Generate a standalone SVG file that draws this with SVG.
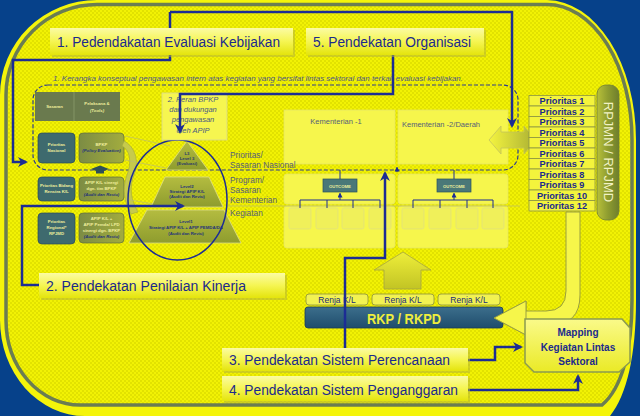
<svg xmlns="http://www.w3.org/2000/svg" width="640" height="416" viewBox="0 0 640 416">
<defs>
  <pattern id="chk" width="4" height="4" patternUnits="userSpaceOnUse">
    <rect width="4" height="4" fill="#f2f204"/>
    <rect width="2" height="2" fill="#e2e200"/>
    <rect x="2" y="2" width="2" height="2" fill="#e2e200"/>
  </pattern>
  <linearGradient id="gTitle" x1="0" y1="0" x2="0" y2="1">
    <stop offset="0" stop-color="#fbfba4"/>
    <stop offset="0.5" stop-color="#f5f552"/>
    <stop offset="1" stop-color="#e4e40c"/>
  </linearGradient>
  <linearGradient id="gPyr" x1="0" y1="0" x2="0" y2="1">
    <stop offset="0" stop-color="#b4bc40"/>
    <stop offset="1" stop-color="#8e9c2e"/>
  </linearGradient>
  <linearGradient id="gOliveBox" x1="0" y1="0" x2="1" y2="0">
    <stop offset="0" stop-color="#7c8c44"/>
    <stop offset="1" stop-color="#a2ac3e"/>
  </linearGradient>
  <linearGradient id="gPill" x1="0" y1="0" x2="1" y2="0">
    <stop offset="0" stop-color="#b8c03a"/>
    <stop offset="0.5" stop-color="#8e9c30"/>
    <stop offset="1" stop-color="#6e7e2c"/>
  </linearGradient>
  <linearGradient id="gDbl" x1="0" y1="0" x2="1" y2="0">
    <stop offset="0" stop-color="#f4f440"/>
    <stop offset="1" stop-color="#aab032"/>
  </linearGradient>
  <linearGradient id="gUp" x1="0" y1="0" x2="0" y2="1">
    <stop offset="0" stop-color="#eeee3a"/>
    <stop offset="1" stop-color="#c2c424"/>
  </linearGradient>
  <linearGradient id="gRkp" x1="0" y1="0" x2="0" y2="1">
    <stop offset="0" stop-color="#3c6e8c"/>
    <stop offset="1" stop-color="#1f4d6c"/>
  </linearGradient>
  <linearGradient id="gMap" x1="0" y1="0" x2="0" y2="1">
    <stop offset="0" stop-color="#fafa8a"/>
    <stop offset="1" stop-color="#eaea26"/>
  </linearGradient>
  <marker id="ah" viewBox="0 0 10 10" refX="8" refY="5" markerWidth="4" markerHeight="4" orient="auto" markerUnits="strokeWidth">
    <path d="M0,0 L10,5 L0,10 L3,5 Z" fill="#1c2c94"/>
  </marker>
  <marker id="ahs" viewBox="0 0 10 10" refX="8" refY="5" markerWidth="5" markerHeight="5" orient="auto" markerUnits="strokeWidth">
    <path d="M0,0 L10,5 L0,10 Z" fill="#1c2c94"/>
  </marker>
</defs>
<style>
  .sans { font-family: 'Liberation Sans', Arial, sans-serif; }
  .title { font-family: 'Liberation Sans', Arial, sans-serif; font-size: 15.5px; fill: #1b2a8c; }
  .tbox { fill: url(#gTitle); }
  .tshadow { fill: #b6b63a; opacity: 0.55; }
  .conn { fill: none; stroke: #1c2c94; stroke-width: 2.5; }
  .thin { fill: none; stroke: #1c2c94; stroke-width: 1; }
  .lbl { font-family: 'Liberation Sans', Arial, sans-serif; font-size: 8.3px; fill: #55607a; }
  .tiny { font-family: 'Liberation Sans', Arial, sans-serif; font-size: 4.3px; font-weight: bold; text-anchor: middle; }
  .lt { fill: #eeee9c; }
  .dk { fill: #24347a; font-style: italic; }
  .prio { fill: #f4f43c; stroke: #8c9444; stroke-width: 0.8; }
  .ptxt { font-family: 'Liberation Sans', Arial, sans-serif; font-size: 9.2px; font-weight: bold; fill: #1b2a8c; text-anchor: middle; }
  .renja { fill: #f2f252; stroke: #8a9040; stroke-width: 0.8; }
  .rtxt { font-family: 'Liberation Sans', Arial, sans-serif; font-size: 8.5px; fill: #1b2a7c; text-anchor: middle; }
  .panel { fill: #f6f64c; stroke: #e2e26a; stroke-width: 0.7; }
  .keg { fill: #f0f05a; stroke: #dcdc8a; stroke-width: 0.6; }
  .faint { stroke: #bcbc70; stroke-width: 0.7; fill: none; }
  .mtxt { font-family: 'Liberation Sans', Arial, sans-serif; font-size: 10px; font-weight: bold; fill: #1b2a8c; text-anchor: middle; }
</style>

<g id="background">
  <rect width="640" height="416" fill="#06418a"/>
  <path d="M97 0 H547 A90 140 0 0 1 636 140 V300 C636 355 627 395 610 416 H85 A85 96 0 0 1 0 320 V95 A97 95 0 0 1 97 0 Z" fill="#f4f40a"/>
  <path d="M97 4.5 H547 A85 135.5 0 0 1 632 140 V300 C632 350 622 388 602 405 H80 A74 85 0 0 1 6 320 V95 A91 90.5 0 0 1 97 4.5 Z" fill="url(#chk)" stroke="#6b7d52" stroke-width="3.5"/>
</g>

<g id="kerangka">
  <rect x="33" y="85" width="485" height="85" rx="15" fill="none" stroke="#2c3c90" stroke-width="1.2" stroke-dasharray="4 2"/>
  <text class="sans" x="53" y="81" font-size="7.5" font-style="italic" fill="#4e5a82" textLength="410" lengthAdjust="spacingAndGlyphs">1. Kerangka konseptual pengawasan intern atas kegiatan yang bersifat lintas sektoral dan terkait evaluasi kebijakan.</text>
</g>

<g id="kementerian-panels">
  <rect class="panel" x="284" y="110" width="111" height="54"/>
  <rect class="panel" x="398" y="110" width="110" height="54"/>
  <rect class="panel" x="284" y="174" width="111" height="30" rx="3"/>
  <rect class="panel" x="398" y="174" width="110" height="30" rx="3"/>
  <rect class="panel" x="284" y="206" width="111" height="42" rx="3"/>
  <rect class="panel" x="398" y="206" width="110" height="42" rx="3"/>
  <text class="sans" x="336" y="124" font-size="7.5" fill="#55607a" text-anchor="middle">Kementerian -1</text>
  <text class="sans" x="441" y="127" font-size="7.5" fill="#55607a" text-anchor="middle">Kementerian -2/Daerah</text>
  <line class="faint" x1="228" y1="206" x2="520" y2="206"/>
</g>

<g id="outcome-1">
  <rect x="323" y="179" width="34" height="13" fill="#4a7878" stroke="#2a5060" stroke-width="0.7"/>
  <text class="tiny lt" x="340" y="187.5">OUTCOME</text>
</g>
<g id="outcome-2">
  <rect x="437" y="179" width="34" height="13" fill="#4a7878" stroke="#2a5060" stroke-width="0.7"/>
  <text class="tiny lt" x="454" y="187.5">OUTCOME</text>
</g>

<g id="kegiatan-boxes">
  <rect class="keg" x="289" y="208" width="22" height="21" rx="2"/>
  <rect class="keg" x="316" y="208" width="22" height="21" rx="2"/>
  <rect class="keg" x="342" y="208" width="22" height="21" rx="2"/>
  <rect class="keg" x="369" y="208" width="22" height="21" rx="2"/>
  <rect class="keg" x="402" y="208" width="22" height="21" rx="2"/>
  <rect class="keg" x="429" y="208" width="22" height="21" rx="2"/>
  <rect class="keg" x="456" y="208" width="22" height="21" rx="2"/>
  <rect class="keg" x="482" y="208" width="22" height="21" rx="2"/>
</g>

<g id="row-labels">
  <text class="lbl" x="230" y="158">Prioritas/</text>
  <text class="lbl" x="230" y="168">Sasaran Nasional</text>
  <text class="lbl" x="230" y="183">Program/</text>
  <text class="lbl" x="230" y="193">Sasaran</text>
  <text class="lbl" x="230" y="203">Kementerian</text>
  <text class="lbl" x="230" y="216">Kegiatan</text>
</g>

<g id="left-table">
  <rect x="35" y="92" width="85" height="29" fill="#6a7a4e"/>
  <line x1="74" y1="92" x2="74" y2="121" stroke="#8c9c6c" stroke-width="0.8"/>
  <text class="tiny lt" x="54.5" y="108">Sasaran</text>
  <text class="tiny lt" x="97" y="105">Pelaksana &amp;</text>
  <text class="tiny lt" x="97" y="112" font-style="italic">(Tools)</text>

  <rect x="38" y="133" width="37" height="30" rx="4" fill="#3e6a6e" stroke="#2a4a5a" stroke-width="0.7"/>
  <text class="tiny lt" x="56.5" y="146">Prioritas</text>
  <text class="tiny lt" x="56.5" y="152">Nasional</text>
  <rect x="79" y="133" width="45" height="30" rx="4" fill="url(#gOliveBox)" stroke="#5e6e3c" stroke-width="0.7"/>
  <text class="tiny lt" x="101.5" y="146">BPKP</text>
  <text class="tiny dk" x="101.5" y="152">(Policy Evaluation)</text>

  <rect x="38" y="177" width="37" height="24" rx="4" fill="#3e6a6e" stroke="#2a4a5a" stroke-width="0.7"/>
  <text class="tiny lt" x="56.5" y="187">Prioritas Bidang</text>
  <text class="tiny lt" x="56.5" y="193">Renstra K/L</text>
  <rect x="79" y="177" width="45" height="24" rx="4" fill="url(#gOliveBox)" stroke="#5e6e3c" stroke-width="0.7"/>
  <text class="tiny lt" x="101.5" y="184">APIP K/L sinergi</text>
  <text class="tiny lt" x="101.5" y="190">dgn. tim BPKP</text>
  <text class="tiny dk" x="101.5" y="196">(Audit dan Reviu)</text>

  <rect x="38" y="213" width="37" height="31" rx="4" fill="#3e6a6e" stroke="#2a4a5a" stroke-width="0.7"/>
  <text class="tiny lt" x="56.5" y="223">Prioritas</text>
  <text class="tiny lt" x="56.5" y="229">Regional*</text>
  <text class="tiny lt" x="56.5" y="235">RPJMD</text>
  <rect x="79" y="213" width="45" height="30" rx="4" fill="url(#gOliveBox)" stroke="#5e6e3c" stroke-width="0.7"/>
  <text class="tiny lt" x="101.5" y="220">APIP K/L +</text>
  <text class="tiny lt" x="101.5" y="226">APIP Pemda/ LPD</text>
  <text class="tiny lt" x="101.5" y="232">sinergi dgn. BPKP</text>
  <text class="tiny dk" x="101.5" y="238">(Audit dan Reviu)</text>

  <path d="M91 169 L100 165.5 L109 169 L100 172.5 Z" fill="#2e5058"/>
  <rect x="96" y="170" width="8" height="3.5" fill="#2e5058"/>
  <path d="M124 141 C134 146 140 160 134 175 C129 188 131 200 138 212 L131 214 C124 202 122 188 127 175 C132 162 130 150 122 146 Z" fill="#c6ca4c" stroke="#a0a840" stroke-width="0.6"/>
  <line class="faint" x1="125" y1="136" x2="170" y2="146"/>
  <line class="faint" x1="125" y1="160" x2="166" y2="168"/>
  <line class="faint" x1="125" y1="199" x2="153" y2="204"/>
</g>

<g id="pyramid">
  <polygon points="187,141 208,170 166,170" fill="url(#gPyr)" stroke="#dcdc86" stroke-width="0.8"/>
  <polygon points="165,177 209,177 223,207 151,207" fill="url(#gPyr)" stroke="#dcdc86" stroke-width="0.8"/>
  <polygon points="147,210 224,210 241,243 129,243" fill="url(#gPyr)" stroke="#dcdc86" stroke-width="0.8"/>
  <text class="tiny" x="187" y="155" fill="#2a3a6a">L3</text>
  <text class="tiny" x="187" y="160" fill="#2a3a6a">Level 3</text>
  <text class="tiny" x="187" y="165" fill="#2a3a6a">(Evaluasi)</text>
  <text class="tiny" x="187" y="188" fill="#24347a">Level2</text>
  <text class="tiny" x="187" y="193" fill="#24347a">Strategi APIP K/L</text>
  <text class="tiny" x="187" y="198" fill="#24347a">(Audit dan Reviu)</text>
  <text class="tiny" x="186" y="223" fill="#24347a">Level1</text>
  <text class="tiny" x="186" y="229" fill="#24347a">Strategi APIP K/L + APIP PEMDA/DA</text>
  <text class="tiny" x="186" y="235" fill="#24347a">(Audit dan Reviu)</text>
  <ellipse cx="177.5" cy="200" rx="49.5" ry="60" fill="none" stroke="#1c2c94" stroke-width="1.5"/>
</g>

<g id="peran-bpkp">
  <rect x="162" y="93" width="65" height="47" fill="#f6f650" stroke="#d8d890" stroke-width="0.8"/>
  <g class="sans" font-size="7.5" font-style="italic" fill="#4a5a82" text-anchor="middle">
    <text x="193" y="102">2. Peran  BPKP</text>
    <text x="193" y="112">dan dukungan</text>
    <text x="193" y="122">pengawasan</text>
    <text x="193" y="133">oleh APIP</text>
  </g>
</g>

<g id="double-arrow">
  <path d="M489 140 L501 126 L501 132 L524 132 L524 126 L536 140 L524 154 L524 148 L501 148 L501 154 Z" fill="url(#gDbl)" stroke="#c4c45c" stroke-width="0.8"/>
</g>

<g id="prioritas">
  <rect class="prio" x="529" y="95.5" width="66" height="10.5"/>
  <rect class="prio" x="529" y="106" width="66" height="10.5"/>
  <rect class="prio" x="529" y="116.5" width="66" height="10.5"/>
  <rect class="prio" x="529" y="127" width="66" height="10.5"/>
  <rect class="prio" x="529" y="137.5" width="66" height="10.5"/>
  <rect class="prio" x="529" y="148" width="66" height="10.5"/>
  <rect class="prio" x="529" y="158.5" width="66" height="10.5"/>
  <rect class="prio" x="529" y="169" width="66" height="10.5"/>
  <rect class="prio" x="529" y="179.5" width="66" height="10.5"/>
  <rect class="prio" x="529" y="190" width="66" height="10.5"/>
  <rect class="prio" x="529" y="200.5" width="66" height="10.5"/>
  <text class="ptxt" x="562" y="104">Prioritas 1</text>
  <text class="ptxt" x="562" y="114.5">Prioritas 2</text>
  <text class="ptxt" x="562" y="125">Prioritas 3</text>
  <text class="ptxt" x="562" y="135.5">Prioritas 4</text>
  <text class="ptxt" x="562" y="146">Prioritas 5</text>
  <text class="ptxt" x="562" y="156.5">Prioritas 6</text>
  <text class="ptxt" x="562" y="167">Prioritas 7</text>
  <text class="ptxt" x="562" y="177.5">Prioritas 8</text>
  <text class="ptxt" x="562" y="188">Prioritas 9</text>
  <text class="ptxt" x="562" y="198.5">Prioritas 10</text>
  <text class="ptxt" x="562" y="209">Prioritas 12</text>
</g>

<g id="rpjmn">
  <rect x="597" y="85" width="22" height="135" rx="9" fill="url(#gPill)" stroke="#6e7e3a" stroke-width="0.8"/>
  <text class="sans" transform="translate(608 152) rotate(90)" x="0" y="4.5" font-size="13" fill="#f2f2c4" text-anchor="middle">RPJMN / RPJMD</text>
</g>

<g id="curved-arrow">
  <path d="M566 212 L566 291 Q566 311 546 311 L526 311 L526 301 L494 318 L526 335 L526 325 L550 325 Q580 325 580 295 L580 212 Z" fill="#f6f64a" stroke="#9aa040" stroke-width="1"/>
</g>

<g id="up-arrow">
  <path d="M403 252 L431 270 L421 270 L421 289 L384 289 L384 270 L374 270 Z" fill="url(#gUp)" stroke="#a4a444" stroke-width="0.8"/>
</g>

<g id="renja">
  <rect class="renja" x="306" y="294" width="62" height="11" rx="3"/>
  <rect class="renja" x="372" y="294" width="62" height="11" rx="3"/>
  <rect class="renja" x="438" y="294" width="62" height="11" rx="3"/>
  <text class="rtxt" x="337" y="302.8">Renja K/L</text>
  <text class="rtxt" x="403" y="302.8">Renja K/L</text>
  <text class="rtxt" x="469" y="302.8">Renja K/L</text>
</g>

<g id="rkp">
  <rect x="305" y="307" width="198" height="21" rx="3" fill="url(#gRkp)" stroke="#1a3a5a" stroke-width="0.8"/>
  <text class="sans" x="404" y="323.5" font-size="15" font-weight="bold" fill="#eeee3c" text-anchor="middle" textLength="74" lengthAdjust="spacingAndGlyphs">RKP / RKPD</text>
</g>

<g id="curved-arrow-head">
  <path d="M526 301 L494 318 L526 335 Z" fill="#f6f64a" stroke="#9aa040" stroke-width="1"/>
</g>

<g id="mapping">
  <path d="M525 319 L622 319 L630 328 L630 362 L619 372 L534 372 L525 363 Z" fill="url(#gMap)" stroke="#8a9a50" stroke-width="1.5"/>
  <text class="mtxt" x="578" y="336">Mapping</text>
  <text class="mtxt" x="578" y="350.5">Kegiatan Lintas</text>
  <text class="mtxt" x="578" y="365">Sektoral</text>
</g>

<g id="connectors">
  <path class="conn" d="M170 12 L512 12 L512 126" marker-end="url(#ah)"/>
  <path class="conn" d="M170 12 L170 60 L13 60 L13 162 L26 162" marker-end="url(#ah)"/>
  <path class="conn" d="M393 55 L393 94 L180 94 L180 132" marker-end="url(#ah)"/>
  <path class="conn" d="M39 285 L22 285 L22 206 L183 206" marker-end="url(#ah)"/>
  <path class="conn" d="M468 360 L495 360 L495 347 L521 347" marker-end="url(#ah)"/>
  <path class="conn" d="M345 348 L345 258 L385 258 L385 173" marker-end="url(#ah)"/>
  <path class="conn" d="M468 390 L578 390 L578 376" marker-end="url(#ah)"/>
  <path class="thin" d="M340 179 L340 170"/>
  <path class="thin" d="M454 179 L454 170"/>
  <path class="thin" d="M397 172 L397 167.5" marker-end="url(#ahs)"/>
  <path class="thin" d="M300 208 L300 200 L380 200 L380 208 M327 200 L327 208 M353 200 L353 208"/>
  <path class="thin" d="M340 200 L340 193.5" marker-end="url(#ahs)"/>
  <path class="thin" d="M413 208 L413 200 L493 200 L493 208 M440 200 L440 208 M467 200 L467 208"/>
  <path class="thin" d="M454 200 L454 193.5" marker-end="url(#ahs)"/>
</g>

<g id="title-1">
  <rect class="tshadow" x="52" y="30" width="243" height="27"/>
  <rect class="tbox" x="50" y="28" width="243" height="27"/>
  <text class="title" x="57" y="47" textLength="223" lengthAdjust="spacingAndGlyphs">1. Pedendakatan Evaluasi Kebijakan</text>
</g>
<g id="title-5">
  <rect class="tshadow" x="308" y="30" width="178" height="27"/>
  <rect class="tbox" x="306" y="28" width="178" height="27"/>
  <text class="title" x="313" y="47" textLength="158" lengthAdjust="spacingAndGlyphs">5. Pendekatan Organisasi</text>
</g>
<g id="title-2">
  <rect class="tshadow" x="41" y="275" width="246" height="25"/>
  <rect class="tbox" x="39" y="273" width="246" height="25"/>
  <text class="title" x="46" y="291" textLength="200" lengthAdjust="spacingAndGlyphs">2. Pendekatan Penilaian Kinerja</text>
</g>
<g id="title-3">
  <rect class="tshadow" x="224" y="350" width="246" height="23"/>
  <rect class="tbox" x="222" y="348" width="246" height="23"/>
  <text class="title" x="229" y="365" textLength="221" lengthAdjust="spacingAndGlyphs">3. Pendekatan Sistem Perencanaan</text>
</g>
<g id="title-4">
  <rect class="tshadow" x="224" y="378" width="246" height="25"/>
  <rect class="tbox" x="222" y="376" width="246" height="25"/>
  <text class="title" x="229" y="395" textLength="229" lengthAdjust="spacingAndGlyphs">4. Pendekatan Sistem Penganggaran</text>
</g>
</svg>
